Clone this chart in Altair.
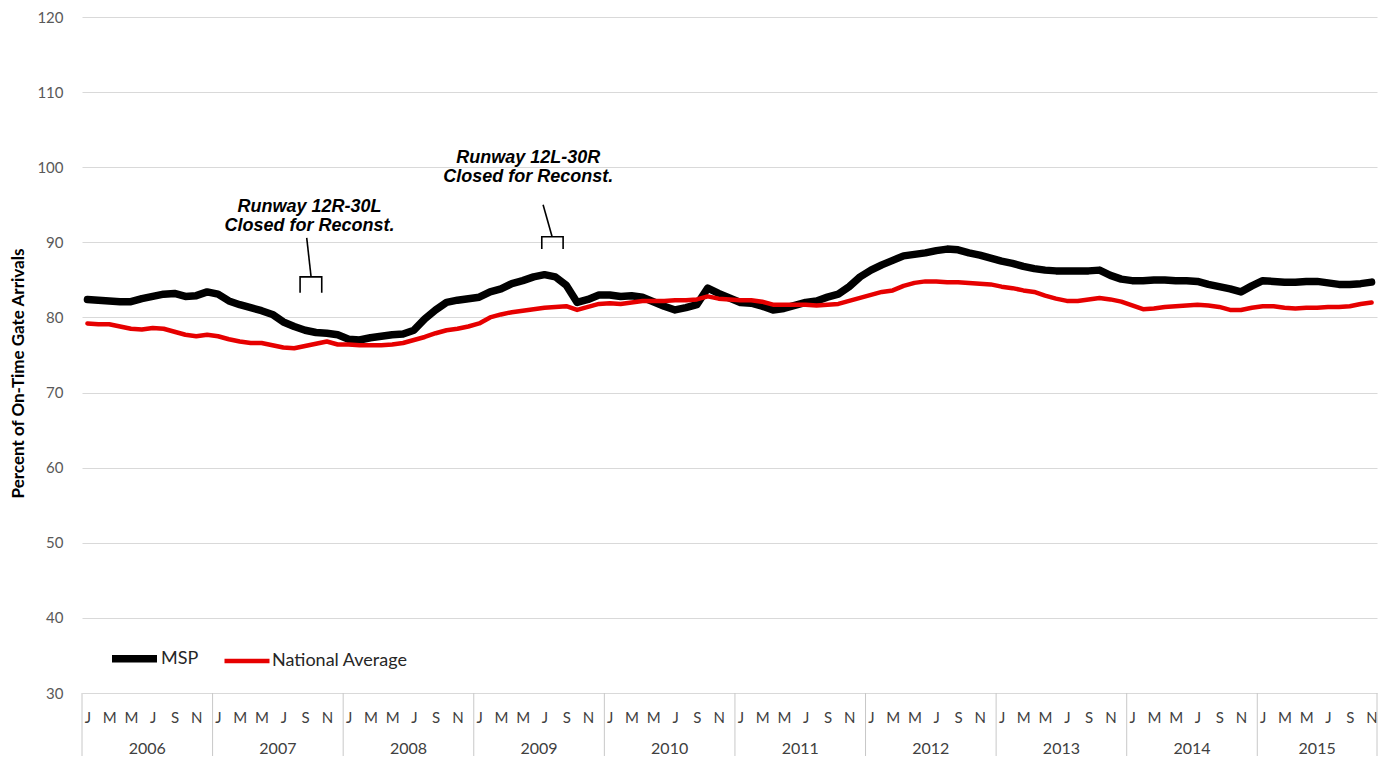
import json
import altair as alt
import pandas as pd

# ---------------- data ----------------
YEARS = [2006, 2007, 2008, 2009, 2010, 2011, 2012, 2013, 2014, 2015]
MONTH_LETTERS = ["J", "F", "M", "A", "M", "J", "J", "A", "S", "O", "N", "D"]
MONTHS_IN_YEAR = [12, 12, 12, 12, 12, 12, 12, 12, 12, 11]  # data ends Nov 2015

MSP = [
    82.4, 82.3, 82.2, 82.1, 82.1, 82.5, 82.8, 83.1, 83.2, 82.8, 82.9, 83.4,  # 2006
    83.1, 82.2, 81.7, 81.3, 80.9, 80.4, 79.4, 78.8, 78.3, 78.0, 77.9, 77.7,  # 2007
    77.1, 77.0, 77.3, 77.5, 77.7, 77.8, 78.3, 79.8, 81.0, 82.0, 82.3, 82.5,  # 2008
    82.7, 83.4, 83.8, 84.5, 84.9, 85.4, 85.7, 85.4, 84.3, 82.0, 82.4, 83.0,  # 2009
    83.0, 82.8, 82.9, 82.7, 82.1, 81.5, 81.0, 81.3, 81.7, 83.9, 83.2, 82.6,  # 2010
    82.0, 81.9, 81.5, 81.0, 81.2, 81.6, 82.0, 82.2, 82.7, 83.1, 84.1, 85.4,  # 2011
    86.3, 87.0, 87.6, 88.2, 88.4, 88.6, 88.9, 89.1, 89.0, 88.6, 88.3, 87.9,  # 2012
    87.5, 87.2, 86.8, 86.5, 86.3, 86.2, 86.2, 86.2, 86.2, 86.3, 85.6, 85.1,  # 2013
    84.9, 84.9, 85.0, 85.0, 84.9, 84.9, 84.8, 84.4, 84.1, 83.8, 83.4, 84.2,  # 2014
    84.9, 84.8, 84.7, 84.7, 84.8, 84.8, 84.6, 84.4, 84.4, 84.5, 84.7,        # 2015
]
NATIONAL = [
    79.2, 79.1, 79.1, 78.8, 78.5, 78.4, 78.6, 78.5, 78.1, 77.7, 77.5, 77.7,  # 2006
    77.5, 77.1, 76.8, 76.6, 76.6, 76.3, 76.0, 75.9, 76.2, 76.5, 76.8, 76.4,  # 2007
    76.4, 76.3, 76.3, 76.3, 76.4, 76.6, 77.0, 77.4, 77.9, 78.3, 78.5, 78.8,  # 2008
    79.2, 80.0, 80.4, 80.7, 80.9, 81.1, 81.3, 81.4, 81.5, 81.0, 81.4, 81.8,  # 2009
    81.9, 81.8, 82.0, 82.2, 82.2, 82.2, 82.3, 82.3, 82.4, 82.8, 82.5, 82.4,  # 2010
    82.3, 82.3, 82.1, 81.7, 81.7, 81.7, 81.7, 81.6, 81.7, 81.8, 82.2, 82.6,  # 2011
    83.0, 83.4, 83.6, 84.2, 84.6, 84.8, 84.8, 84.7, 84.7, 84.6, 84.5, 84.4,  # 2012
    84.1, 83.9, 83.6, 83.4, 82.9, 82.5, 82.2, 82.2, 82.4, 82.6, 82.4, 82.1,  # 2013
    81.6, 81.1, 81.2, 81.4, 81.5, 81.6, 81.7, 81.6, 81.4, 81.0, 81.0, 81.3,  # 2014
    81.5, 81.5, 81.3, 81.2, 81.3, 81.3, 81.4, 81.4, 81.5, 81.8, 82.0,        # 2015
]
SERIES = ["MSP", "National Average"]
Y_TICKS = [30, 40, 50, 60, 70, 80, 90, 100, 110, 120]

# annotations (x in month units from Jan 2006, y in percent)
ANN_TEXT = ["Runway 12R-30L\nClosed for Reconst.", "Runway 12L-30R\nClosed for Reconst."]
ANN_TEXT_X = [20.9, 41.0]
ANN_TEXT_Y = [94.7, 101.2]
# stem lines: (group, x, y)
STEM_G = [0, 0, 1, 1]
STEM_X = [20.65, 21.05, 42.37, 43.2]
STEM_Y = [90.6, 85.4, 95.0, 90.75]
# brackets
BR_G = [0, 0, 0, 0, 1, 1, 1, 1]
BR_X = [20.04, 20.04, 22.03, 22.03, 42.25, 42.25, 44.21, 44.21]
BR_Y = [83.3, 85.4, 85.4, 83.3, 89.1, 90.75, 90.75, 89.1]

# ---------------- tables ----------------
n = len(MSP)
rows = []
for i in range(n):
    rows.append({"m": i + 0.5, "value": MSP[i], "series": SERIES[0]})
for i in range(n):
    rows.append({"m": i + 0.5, "value": NATIONAL[i], "series": SERIES[1]})
df = pd.DataFrame(rows)

starts = []
s = 0
for k in MONTHS_IN_YEAR:
    starts.append(s)
    s += k
year_df = pd.DataFrame({
    "m": [st + k / 2 for st, k in zip(starts, MONTHS_IN_YEAR)],
    "year": [str(y) for y in YEARS],
})
sep_df = pd.DataFrame({"m": starts + [s]})

month_ticks = [i + 0.5 for i in range(n) if (i % 12) % 2 == 0]

ann_df = pd.DataFrame({"t": ANN_TEXT, "m": ANN_TEXT_X, "value": ANN_TEXT_Y})
stem_df = pd.DataFrame({"g": STEM_G, "m": STEM_X, "value": STEM_Y, "o": list(range(len(STEM_X)))})
br_df = pd.DataFrame({"g": BR_G, "m": BR_X, "value": BR_Y, "o": list(range(len(BR_X)))})

W, H = 1295, 676
FONT = "Lato"

xscale = alt.Scale(domain=[0, n], nice=False, zero=False)
yscale = alt.Scale(domain=[30, 120], nice=False, zero=False)

label_expr = json.dumps(MONTH_LETTERS) + "[floor(datum.value) % 12]"

x_axis = alt.Axis(
    values=month_ticks, labelExpr=label_expr, grid=False, ticks=False,
    domain=False, labelFlush=False, labelOverlap=False, labelFontSize=15,
    labelFont=FONT, labelColor="#404040", labelPadding=17, title=None)
y_axis = alt.Axis(
    values=Y_TICKS, grid=True, gridColor="#d9d9d9", gridWidth=1.2,
    domain=False, ticks=False, labelPadding=19, labelFontSize=15,
    labelFont=FONT, labelColor="#595959",
    title="Percent of On-Time Gate Arrivals", titleFont=FONT,
    titleFontSize=17, titleFontWeight="bold", titleColor="#000000",
    titleAngle=270, titleX=-64, titleY=356, titleAlign="center",
    titleBaseline="middle")

X = alt.X("m:Q", scale=xscale, axis=x_axis)
Y = alt.Y("value:Q", scale=yscale, axis=y_axis)

legend = alt.Legend(
    title=None, orient="none", legendX=26, legendY=615, direction="horizontal",
    symbolType="stroke", symbolSize=2025, labelFontSize=18, labelFont=FONT,
    labelColor="#262626", labelOffset=0, columnPadding=16, padding=0,
)

lines = alt.Chart(df).mark_line(strokeCap="round", strokeJoin="round").encode(
    x=X, y=Y,
    color=alt.Color("series:N", scale=alt.Scale(domain=SERIES, range=["#000000", "#e60000"]), legend=legend),
    strokeWidth=alt.StrokeWidth("series:N", scale=alt.Scale(domain=SERIES, range=[7.5, 4.5]), legend=legend),
    order=alt.Order("series:N", sort="descending"),
)

years = alt.Chart(year_df).mark_text(fontSize=16, font=FONT, color="#404040", baseline="middle").encode(
    x=X,
    y=alt.value(H + 56),
    text="year:N",
)

seps = alt.Chart(sep_df).mark_rule(color="#c8c8c8", strokeWidth=1).encode(
    x=X,
    y=alt.value(H),
    y2=alt.value(H + 75),
)

ann = alt.Chart(ann_df).mark_text(
    font="Liberation Sans", fontSize=18, fontWeight="bold", fontStyle="italic",
    lineBreak="\n", lineHeight=19, baseline="middle", align="center", color="#000000",
).encode(x=X, y=Y, text="t:N")

stems = alt.Chart(stem_df).mark_line(color="#000000", strokeWidth=1.6).encode(
    x=X, y=Y, detail="g:N", order="o:Q",
)
brackets = alt.Chart(br_df).mark_line(color="#000000", strokeWidth=1.6).encode(
    x=X, y=Y, detail="g:N", order="o:Q",
)

chart = alt.layer(lines, seps, years, stems, brackets, ann).properties(
    width=W, height=H,
    background="white",
    autosize=alt.AutoSizeParams(type="none"),
    padding={"left": 74, "top": 9, "right": 5, "bottom": 63},
).configure_view(stroke=None)

chart.save("out.html", embed_options={"renderer": "svg", "actions": False})
